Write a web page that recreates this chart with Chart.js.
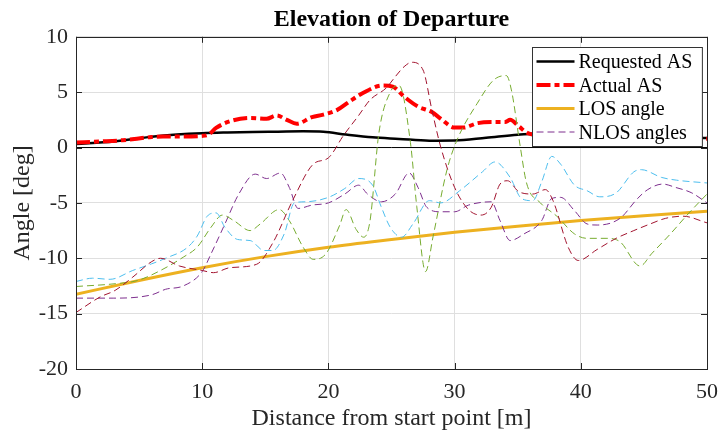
<!DOCTYPE html>
<html lang="en">
<head>
<meta charset="UTF-8">
<title>Elevation of Departure</title>
<style>
  body { margin: 0; background: #fff; }
  #wrap { width: 720px; height: 434px; }
</style>
</head>
<body>
<div id="wrap"><canvas id="eod" width="720" height="434"></canvas></div>
<script src="https://cdn.jsdelivr.net/npm/chart.js@4"></script>
<script>
// axis ticks
const xTicks = [0, 10, 20, 30, 40, 50];
const yTicks = [-20, -15, -10, -5, 0, 5, 10];

// Requested AS (black)
const reqX = [0, 3, 6, 8, 10, 12, 14, 16, 18, 19.6, 21.4, 23.5, 25.6, 28, 30, 32.5, 35, 37, 40, 43, 46, 50];
const reqY = [0.32, 0.55, 0.98, 1.18, 1.3, 1.36, 1.4, 1.43, 1.46, 1.42, 1.17, 0.92, 0.78, 0.62, 0.63, 0.88, 1.15, 1.3, 1.3, 1.2, 1.0, 0.85];

// Actual AS (red dash-dot)
const actX = [0, 2, 3.7, 6, 6.9, 8.2, 10, 10.5, 11.1, 12.2, 13.8, 15.1, 15.9, 16.7, 17.5, 18.7, 19.6, 20.7, 21.6, 22.7, 24.3, 25.1, 26, 27.1, 28.2, 28.9, 30, 30.7, 31.8, 32.9, 34, 34.4, 35.1, 35.8, 37, 40, 44, 48, 50];
const actY = [0.45, 0.55, 0.66, 0.95, 1.0, 1.0, 1.05, 1.17, 1.77, 2.37, 2.67, 2.6, 2.9, 2.5, 2.15, 2.75, 2.97, 3.4, 4.1, 4.9, 5.6, 5.5, 4.6, 3.7, 3.2, 2.6, 1.8, 1.8, 2.2, 2.3, 2.3, 2.5, 1.9, 1.3, 1.1, 1.0, 0.9, 0.9, 0.8];

// LOS angle
const losX = [0, 5, 10, 15, 20, 25, 30, 35, 40, 45, 50];
const losY = [-13.25, -12.0, -10.85, -9.85, -9.0, -8.3, -7.65, -7.1, -6.6, -6.15, -5.75];

// NLOS angles
const purX = [0, 3, 6, 7.1, 8.5, 10, 10.7, 11.8, 12.9, 14.2, 15.1, 16.2, 16.9, 17.6, 18.7, 20, 21.3, 22.4, 23.1, 24.2, 25.3, 26.4, 27.1, 27.8, 28.9, 30, 31.1, 32.9, 33.6, 34.4, 35.5, 36.9, 37.7, 38.4, 39.5, 40.5, 41.3, 43.1, 44.5, 45.3, 46.5, 47.5, 48.8, 50];
const purY = [-13.6, -13.6, -13.3, -12.8, -12.5, -11.2, -9.6, -6.9, -4.2, -2.4, -2.8, -2.3, -3.6, -5.5, -5.2, -5.0, -4.2, -3.4, -4.2, -4.9, -4.2, -2.3, -3.6, -5.4, -5.8, -5.8, -5.2, -4.9, -6.6, -8.4, -7.8, -6.6, -4.6, -4.5, -5.7, -6.9, -7.0, -6.4, -4.6, -3.8, -3.3, -3.6, -4.1, -5.0];

const grnX = [0, 3.1, 4.9, 6.7, 8.5, 9.6, 10.7, 11.6, 12.5, 13.8, 14.6, 16.1, 16.9, 18, 18.8, 19.8, 20.9, 21.4, 22.2, 22.8, 23.3, 24.0, 24.9, 25.6, 26.5, 27.0, 27.7, 28.3, 29.4, 30.2, 31.8, 33.1, 34.1, 34.5, 35.2, 35.7, 36.8, 38.1, 39.5, 40.5, 42, 43.1, 44.7, 45.6, 47.1, 48.5, 50];
const grnY = [-12.55, -12.3, -12.0, -11.1, -9.9, -9.0, -7.2, -6.1, -6.6, -7.5, -6.9, -5.6, -6.6, -9.0, -10.1, -9.6, -7.0, -5.6, -7.4, -8.1, -6.6, 1.3, 5.0, 5.6, 0.45, -5.3, -11.2, -8.0, -2.0, 0.7, 4.0, 6.1, 6.5, 5.2, 0.1, -3.2, -5.0, -6.2, -7.8, -8.2, -8.2, -8.5, -10.7, -9.6, -7.8, -6.0, -4.2];

const cyaX = [0, 1.3, 2.7, 4.5, 6, 7.1, 8.8, 9.6, 10.4, 11.1, 11.8, 12.8, 13.8, 14.9, 15.6, 16.5, 17.3, 18.2, 20, 21.3, 22.4, 23.5, 24.2, 24.9, 25.8, 26.7, 28, 28.9, 30.4, 32.2, 33.2, 34.4, 35.3, 36.2, 36.9, 37.7, 38.4, 39.5, 40.5, 41.5, 42.8, 44.2, 44.8, 46.4, 47.6, 50];
const cyaY = [-12.1, -11.8, -11.9, -11.1, -10.5, -10.0, -9.05, -8.0, -6.2, -5.9, -7.2, -8.3, -8.4, -9.3, -9.3, -7.8, -5.0, -4.9, -4.5, -3.7, -2.8, -3.4, -5.4, -7.2, -8.1, -6.9, -4.8, -5.0, -3.9, -2.2, -1.3, -2.7, -4.6, -4.8, -3.1, -0.8, -1.5, -3.4, -3.9, -4.45, -4.1, -2.2, -2.0, -2.7, -2.95, -3.2];

const redX = [0, 1.9, 3.1, 4.5, 6, 6.7, 8.2, 10, 10.9, 12.2, 14.3, 15.6, 17.2, 18.8, 20, 21.2, 22.4, 23.3, 24.6, 25.3, 26, 26.6, 27.5, 28.2, 28.9, 30, 31.1, 32.1, 32.9, 33.6, 34.2, 35.1, 36.2, 37.2, 37.8, 39.0, 39.8, 41.3, 42.8, 44.2, 45.5, 46.7, 48.1, 50];
const redY = [-14.9, -13.5, -12.9, -11.7, -10.3, -10.0, -10.7, -11.1, -11.3, -10.85, -10.55, -8.6, -4.7, -1.5, -0.93, 1.1, 2.9, 4.3, 5.4, 6.4, 7.3, 7.7, 7.0, 3.4, 0.05, -3.6, -5.6, -6.1, -5.4, -3.3, -3.0, -4.0, -4.2, -3.8, -4.8, -9.0, -10.2, -9.2, -8.2, -7.5, -6.9, -6.4, -6.2, -6.8];

// zero reference line
const zeroX = [0, 50];
const zeroY = [0, 0];

const pts = (xs, ys) => xs.map((x, i) => ({ x: x, y: ys[i] }));
const FONT = "'Liberation Serif', 'Times New Roman', serif";
const AXIS = '#262626';

function serie(label, xs, ys, color, width, dash, order) {
  return {
    label: label,
    data: pts(xs, ys),
    borderColor: color,
    backgroundColor: color,
    borderWidth: width,
    borderDash: dash,
    pointRadius: 0,
    cubicInterpolationMode: 'monotone',
    fill: false,
    order: order
  };
}

const datasets = [
  serie('', zeroX, zeroY, '#000000', 1, [], 20),
  serie('Requested AS', reqX, reqY, '#000000', 2.5, [], 9),
  serie('Actual AS', actX, actY, '#ff0000', 4, [14, 4, 5, 4], 8),
  serie('LOS angle', losX, losY, '#EDB120', 3, [], 7),
  serie('NLOS angles', purX, purY, '#7E2F8E', 1, [7, 4], 6),
  serie('', grnX, grnY, '#77AC30', 1, [7, 4], 5),
  serie('', cyaX, cyaY, '#4DBEEE', 1, [7, 4], 4),
  serie('', redX, redY, '#A2142F', 1, [7, 4], 3)
];

// box around the axes and inward tick marks (MATLAB style)
const axesBox = {
  id: 'axesBox',
  afterDatasetsDraw(chart) {
    const { ctx, chartArea: a, scales } = chart;
    const tl = 6;
    ctx.save();
    ctx.strokeStyle = AXIS;
    ctx.lineWidth = 1;
    ctx.beginPath();
    yTicks.forEach(v => {
      const y = Math.round(scales.y.getPixelForValue(v)) + 0.5;
      ctx.moveTo(a.left, y); ctx.lineTo(a.left + tl, y);
      ctx.moveTo(a.right, y); ctx.lineTo(a.right - tl, y);
    });
    xTicks.forEach(v => {
      const x = Math.round(scales.x.getPixelForValue(v)) + 0.5;
      ctx.moveTo(x, a.bottom); ctx.lineTo(x, a.bottom - tl);
      ctx.moveTo(x, a.top); ctx.lineTo(x, a.top + tl);
    });
    ctx.stroke();
    ctx.strokeRect(Math.round(a.left) + 0.5, Math.round(a.top) + 0.5,
      Math.round(a.right - a.left), Math.round(a.bottom - a.top));
    ctx.restore();
  }
};

// legend inside the axes, top right
const boxLegend = {
  id: 'boxLegend',
  afterDraw(chart) {
    const { ctx, chartArea: a } = chart;
    const items = chart.data.datasets.filter(d => d.label);
    ctx.save();
    ctx.font = '20px ' + FONT;
    const maxW = Math.max(...items.map(d => ctx.measureText(d.label).width));
    const sample = 38, rowH = 23.5;
    const w = 4 + sample + 4 + maxW + 10;
    const h = items.length * rowH + 5;
    const x0 = Math.round(a.right - 5 - w) + 0.5;
    const y0 = Math.round(a.top + 10) + 0.5;
    ctx.fillStyle = '#ffffff';
    ctx.fillRect(x0, y0, w, h);
    ctx.strokeStyle = '#333333';
    ctx.lineWidth = 1;
    ctx.setLineDash([]);
    ctx.strokeRect(x0, y0, w, h);
    items.forEach((d, i) => {
      const cy = y0 + 14 + i * rowH;
      ctx.beginPath();
      ctx.strokeStyle = d.borderColor;
      ctx.lineWidth = d.borderWidth;
      ctx.setLineDash(d.borderDash);
      ctx.moveTo(x0 + 4, cy);
      ctx.lineTo(x0 + 4 + sample, cy);
      ctx.stroke();
      ctx.setLineDash([]);
      ctx.fillStyle = '#000000';
      ctx.textBaseline = 'middle';
      ctx.textAlign = 'left';
      ctx.fillText(d.label, x0 + 8 + sample, cy + 1.5);
    });
    ctx.restore();
  }
};

new Chart(document.getElementById('eod'), {
  type: 'line',
  data: { datasets: datasets },
  plugins: [axesBox, boxLegend],
  options: {
    responsive: false,
    animation: false,
    layout: { padding: { left: 0, right: 13, top: 0, bottom: 0 } },
    plugins: {
      legend: { display: false },
      tooltip: { enabled: false },
      title: {
        display: true,
        text: 'Elevation of Departure',
        fullSize: false,
        color: '#000000',
        font: { family: FONT, size: 24, weight: 'bold' },
        padding: { top: 5, bottom: 3 }
      }
    },
    scales: {
      x: {
        type: 'linear',
        min: 0, max: 50,
        afterFit: s => { s.height = 65; s.paddingLeft = 0; s.paddingRight = 0; },
        afterBuildTicks: s => { s.ticks = xTicks.map(v => ({ value: v })); },
        ticks: { color: AXIS, padding: 10, font: { family: FONT, size: 22 } },
        grid: { color: '#dfdfdf', drawTicks: false },
        border: { display: false },
        title: {
          display: true,
          text: 'Distance from start point [m]',
          color: AXIS,
          font: { family: FONT, size: 24 },
          padding: { top: 0, bottom: 1 }
        }
      },
      y: {
        type: 'linear',
        min: -20, max: 10,
        afterFit: s => { s.width = 76; s.paddingTop = 0; s.paddingBottom = 0; },
        afterBuildTicks: s => { s.ticks = yTicks.map(v => ({ value: v })); },
        ticks: { color: AXIS, padding: 8, font: { family: FONT, size: 22 } },
        grid: { color: '#dfdfdf', drawTicks: false },
        border: { display: false },
        title: {
          display: true,
          text: 'Angle [deg]',
          color: AXIS,
          font: { family: FONT, size: 24 },
          padding: { top: 8, bottom: 0 }
        }
      }
    }
  }
});
</script>
</body>
</html>
